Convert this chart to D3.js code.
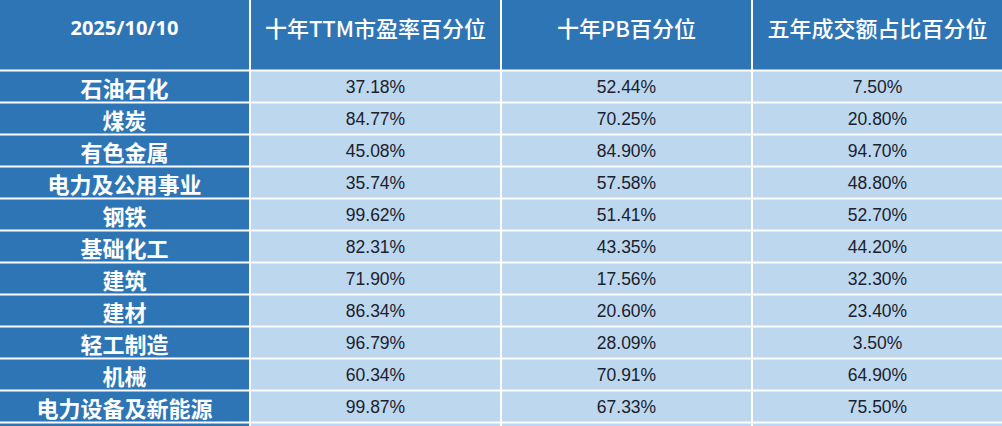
<!DOCTYPE html>
<html>
<head>
<meta charset="utf-8">
<script src="https://cdn.jsdelivr.net/npm/d3@7"></script>
<style>
  html, body { margin: 0; padding: 0; background: #ffffff; }
  svg { display: block; }
</style>
</head>
<body>
<div id="container"></div>
<script>
const width = 1002;
const height = 426;

// table data
const dateLabel = "2025/10/10";
const columns = ["十年TTM市盈率百分位", "十年PB百分位", "五年成交额占比百分位"];
const industries = ["石油石化", "煤炭", "有色金属", "电力及公用事业", "钢铁", "基础化工",
  "建筑", "建材", "轻工制造", "机械", "电力设备及新能源"];
const pePct = [37.18, 84.77, 45.08, 35.74, 99.62, 82.31, 71.90, 86.34, 96.79, 60.34, 99.87];
const pbPct = [52.44, 70.25, 84.90, 57.58, 51.41, 43.35, 17.56, 20.60, 28.09, 70.91, 67.33];
const volPct = [7.50, 20.80, 94.70, 48.80, 52.70, 44.20, 32.30, 23.40, 3.50, 64.90, 75.50];

const series = [pePct, pbPct, volPct];

const headBlue = "#2e75b6";
const cellBlue = "#bdd7ee";
const textDark = "#1a212c";

const headerBottom = 70;
const rowStep = 32;

const svg = d3.select("#container")
  .append("svg")
  .attr("width", width)
  .attr("height", height);

// columns: first is the label column, then three value columns
const colKeys = ["label"].concat(columns);
const xScale = d3.scaleBand()
  .domain(colKeys)
  .range([0, width])
  .paddingInner(0.008);

const yScale = d3.scaleBand()
  .domain(industries)
  .range([headerBottom, headerBottom + industries.length * rowStep]);

// header cells
svg.selectAll("rect.head")
  .data(colKeys)
  .join("rect")
  .attr("class", "head")
  .attr("x", d => xScale(d))
  .attr("y", 0)
  .attr("width", xScale.bandwidth())
  .attr("height", headerBottom - 0.5)
  .attr("fill", headBlue);

svg.selectAll("text.head")
  .data(colKeys)
  .join("text")
  .attr("class", "head")
  .attr("x", d => xScale(d) + xScale.bandwidth() / 2)
  .attr("y", 27)
  .attr("text-anchor", "middle")
  .attr("dominant-baseline", "central")
  .attr("fill", "#ffffff")
  .style("font-family", d => d === "label" ? "'Open Sans', 'Noto Sans', sans-serif" : "'Noto Sans CJK SC', sans-serif")
  .style("font-weight", d => d === "label" ? 700 : 500)
  .style("font-size", d => d === "label" ? "20px" : "22px")
  .text(d => d === "label" ? dateLabel : d);

// body rows
const rows = industries.map((name, i) => ({
  name: name,
  values: series.map(s => s[i])
}));

const rowG = svg.selectAll("g.row")
  .data(rows)
  .join("g")
  .attr("class", "row")
  .attr("transform", d => `translate(0,${yScale(d.name)})`);

rowG.selectAll("rect")
  .data(d => colKeys.map((k, j) => ({ key: k, j: j })))
  .join("rect")
  .attr("x", d => xScale(d.key))
  .attr("y", 1.5)
  .attr("width", xScale.bandwidth())
  .attr("height", yScale.step() - 2)
  .attr("fill", d => d.j === 0 ? headBlue : cellBlue);

rowG.append("text")
  .attr("x", xScale("label") + xScale.bandwidth() / 2)
  .attr("y", yScale.step() / 2 + 0.5)
  .attr("text-anchor", "middle")
  .attr("dominant-baseline", "central")
  .attr("fill", "#ffffff")
  .style("font-family", "'Noto Sans CJK SC', sans-serif")
  .style("font-weight", 700)
  .style("font-size", "22px")
  .text(d => d.name);

rowG.selectAll("text.val")
  .data(d => d.values.map((v, j) => ({ v: v, key: columns[j] })))
  .join("text")
  .attr("class", "val")
  .attr("x", d => xScale(d.key) + xScale.bandwidth() / 2)
  .attr("y", yScale.step() / 2 + 1)
  .attr("text-anchor", "middle")
  .attr("dominant-baseline", "central")
  .attr("fill", textDark)
  .style("font-family", "'Liberation Sans', Arial, sans-serif")
  .style("font-size", "17.5px")
  .text(d => d.v.toFixed(2) + "%");

// next row peeking in at the bottom edge
const tailTop = yScale.range()[1];
svg.selectAll("rect.tail")
  .data(colKeys)
  .join("rect")
  .attr("class", "tail")
  .attr("x", d => xScale(d))
  .attr("y", tailTop + 1.5)
  .attr("width", xScale.bandwidth())
  .attr("height", Math.max(0, height - tailTop - 1.5))
  .attr("fill", (d, j) => j === 0 ? headBlue : cellBlue);
</script>
</body>
</html>
